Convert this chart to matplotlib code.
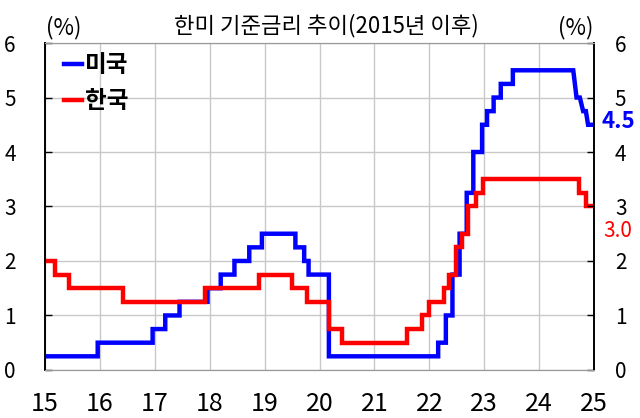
import matplotlib
matplotlib.use("Agg")
import matplotlib.pyplot as plt
import numpy as np

plt.rcParams['font.family'] = ['Noto Sans CJK KR', 'DejaVu Sans']

# rate change points (decimal year, 15 = 2015) and the level from that point on
us_x = [15.0, 15.96, 16.96, 17.19, 17.45, 17.96, 18.2, 18.45, 18.72, 18.95,
        19.56, 19.72, 19.8, 20.17, 22.16, 22.3, 22.42, 22.55, 22.68, 22.8,
        22.96, 23.05, 23.17, 23.3, 23.52, 24.62, 24.68, 24.74, 24.8, 24.85, 24.89, 25.0]
us_y = [0.25, 0.5, 0.75, 1.0, 1.25, 1.5, 1.75, 2.0, 2.25, 2.5,
        2.25, 2.0, 1.75, 0.25, 0.5, 1.0, 1.75, 2.5, 3.25, 4.0,
        4.5, 4.75, 5.0, 5.25, 5.5, 5.5, 5.0, 5.0, 4.75, 4.75, 4.5, 4.5]

kr_x = [15.0, 15.18, 15.43, 16.42, 17.92, 18.9, 19.5, 19.77, 20.17, 20.4,
        21.6, 21.87, 22.0, 22.26, 22.36, 22.48, 22.59, 22.7, 22.84, 22.98,
        24.64, 24.72, 24.78, 24.85, 25.0]
kr_y = [2.0, 1.75, 1.5, 1.25, 1.5, 1.75, 1.5, 1.25, 0.75, 0.5,
        0.75, 1.0, 1.25, 1.5, 1.75, 2.25, 2.5, 3.0, 3.25, 3.5,
        3.5, 3.25, 3.25, 3.0, 3.0]

years = np.arange(15, 26)
y_ticks = np.arange(0, 7)


def step_xy(xs, ys):
    # vertical jumps for rate changes, sloped where two points are given
    px, py = [xs[0]], [ys[0]]
    for i in range(1, len(xs)):
        if ys[i] != ys[i - 1] and ys[i - 1] == py[-1] and (i < 2 or xs[i] - xs[i - 1] > 0.07 or ys[i - 1] != ys[i - 2]):
            px.append(xs[i]); py.append(ys[i - 1])
        px.append(xs[i]); py.append(ys[i])
    return px, py


fig = plt.figure(figsize=(6.4, 4.18), dpi=100)
ax = fig.add_axes([0.0703, 0.115, 0.858, 0.782])

ux, uy = step_xy(us_x, us_y)
kx, ky = step_xy(kr_x, kr_y)
ax.plot(ux, uy, color='#0000ff', lw=3.2, label='미국', zorder=3, solid_joinstyle='miter')
ax.plot(kx, ky, color='#ff0000', lw=3.2, label='한국', zorder=4, solid_joinstyle='miter')

ax.set_xlim(15, 25)
ax.set_ylim(0, 6)
ax.set_xticks(years)
ax.set_xticklabels([str(y) for y in years], fontsize=18)
ax.set_yticks(y_ticks)
ax.set_yticklabels([str(v) for v in y_ticks], fontsize=15)
ax.tick_params(axis='x', length=0, pad=15)
ax.tick_params(axis='y', direction='in', length=5, width=1, pad=21)
ax.grid(True, color='#c8c8c8', lw=1)
ax.set_axisbelow(True)

# right-hand axis with the same scale
ax2 = ax.twinx()
ax2.set_ylim(ax.get_ylim())
ax2.set_yticks(y_ticks)
ax2.set_yticklabels([str(v) for v in y_ticks], fontsize=15)
ax2.tick_params(axis='y', direction='in', length=5, width=1, pad=15)

for a in (ax, ax2):
    for s in ['top', 'bottom']:
        a.spines[s].set_color('#999999')
    for s in ['left', 'right']:
        a.spines[s].set_color('black')
        a.spines[s].set_linewidth(1.2)

leg = ax.legend(loc='upper left', bbox_to_anchor=(0.021, 0.99), frameon=False,
                handlelength=0.8, handletextpad=0.12, borderaxespad=0,
                borderpad=0.3, labelspacing=0.5,
                prop={'size': 17, 'weight': 'bold'})

fig.text(0.51, 0.938, '한미 기준금리 추이(2015년 이후)', ha='center', va='center', fontsize=16)
fig.text(0.1, 0.935, '(%)', ha='center', va='center', fontsize=16)
fig.text(0.9, 0.935, '(%)', ha='center', va='center', fontsize=16)

ax.annotate(f'{us_y[-1]:.1f}', xy=(us_x[-1], us_y[-1]), xytext=(5, 2),
            textcoords='offset points', color='#0000ff', fontsize=16,
            fontweight='bold', va='center', ha='left', annotation_clip=False)
ax.annotate(f'{kr_y[-1]:.1f}', xy=(kr_x[-1], kr_y[-1]), xytext=(6.5, -18),
            textcoords='offset points', color='#ff0000', fontsize=15,
            va='center', ha='left', annotation_clip=False)

fig.savefig('out.png', dpi=100)
